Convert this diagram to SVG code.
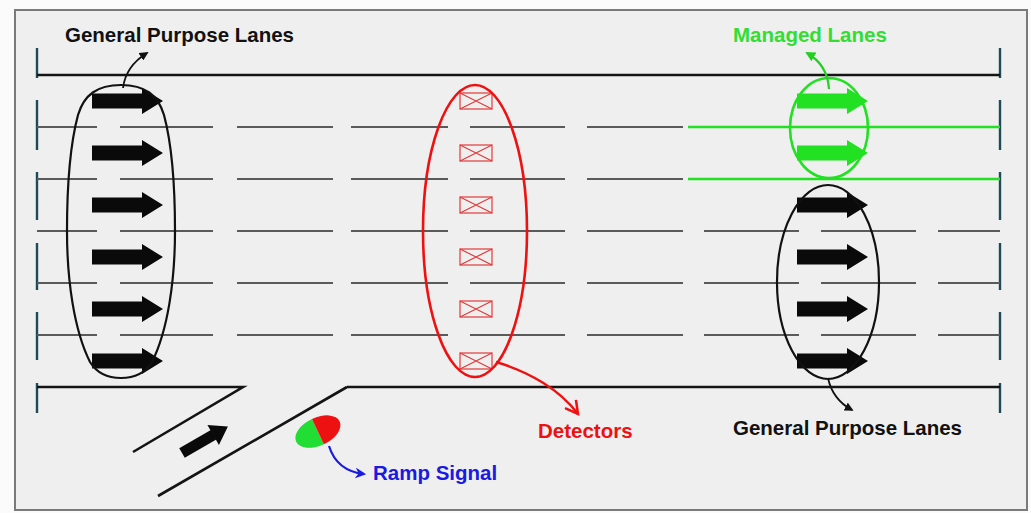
<svg xmlns="http://www.w3.org/2000/svg" width="1031" height="513" viewBox="0 0 1031 513">
  <style>
    .lbl { font-family: "Liberation Sans", Arial, sans-serif; font-weight: bold; font-size: 20.5px; }
    .edge { stroke: #141414; stroke-width: 2.6; fill: none; }
    .lane { stroke: #5a5a5a; stroke-width: 1.8; fill: none; }
    .hov { stroke: #22e022; stroke-width: 2.6; fill: none; }
    .tick { stroke: #1f4a58; stroke-width: 2.4; fill: none; }
    .det { stroke: #e23a3a; stroke-width: 1.2; fill: none; }
    .blk { fill: #0a0a0a; }
    .grn { fill: #22e022; }
  </style>
  <defs>
    <!-- block arrow showing direction of travel, origin at tail centre -->
    <path id="flow" d="M0,-7.5 H50 V-13 L71,0 L50,13 V7.5 H0 Z"/>
    <!-- detector loop symbol, origin at centre -->
    <g id="loop">
      <rect x="-16" y="-8" width="32" height="16"/>
      <path d="M-16,-8 L16,8 M-16,8 L16,-8"/>
    </g>
    <marker id="ah-black" viewBox="0 0 10 10" refX="8" refY="5" markerWidth="9" markerHeight="9" markerUnits="userSpaceOnUse" orient="auto">
      <path d="M0,0 L10,5 L0,10 Z" fill="#111"/>
    </marker>
    <marker id="ah-green" viewBox="0 0 10 10" refX="8" refY="5" markerWidth="10" markerHeight="10" markerUnits="userSpaceOnUse" orient="auto">
      <path d="M0,0 L10,5 L0,10 Z" fill="#22d022"/>
    </marker>
    <marker id="ah-red" viewBox="0 0 14 14" refX="12" refY="7" markerWidth="16" markerHeight="16" markerUnits="userSpaceOnUse" orient="auto">
      <path d="M1,1 L12,7 L1,13" fill="none" stroke="#ee1111" stroke-width="2.2"/>
    </marker>
    <marker id="ah-blue" viewBox="0 0 10 10" refX="8" refY="5" markerWidth="11" markerHeight="11" markerUnits="userSpaceOnUse" orient="auto">
      <path d="M0,0 L10,5 L0,10 L3,5 Z" fill="#1a1ae0"/>
    </marker>
  </defs>

  <!-- page and frame -->
  <rect x="0" y="0" width="1031" height="513" fill="#fbfbfb"/>
  <rect x="15" y="10" width="1012" height="500" fill="#efefef" stroke="#7a7a7a" stroke-width="2"/>

  <!-- roadway -->
  <g id="roadway">
    <!-- section limits -->
    <path class="tick" d="M37,48 V78 M37,100 V150 M37,172 V220 M37,243 V290 M37,312 V360 M37,383 V413"/>
    <path class="tick" d="M1000,48 V78 M1000,100 V150 M1000,172 V220 M1000,243 V290 M1000,312 V360 M1000,383 V413"/>
    <!-- outer edges -->
    <path class="edge" d="M37,75 H1000"/>
    <path class="edge" d="M37,387 H243 L133,452 M347,387 H1000 M347,387 L158,496"/>
    <!-- lane lines next to the managed lanes -->
    <path class="lane" d="M37,127 H97 M120,127 H213 M237,127 H333 M351,127 H448 M470,127 H565 M587,127 H683"/>
    <path class="lane" d="M37,179 H97 M120,179 H213 M237,179 H333 M351,179 H448 M470,179 H565 M587,179 H683"/>
    <path class="hov" d="M688,127 H1000 M688,179 H1000"/>
    <!-- general purpose lane lines -->
    <path class="lane" d="M37,231 H97 M120,231 H213 M237,231 H333 M351,231 H448 M470,231 H565 M587,231 H683 M704,231 H799 M821,231 H916 M938,231 H1000"/>
    <path class="lane" d="M37,283 H97 M120,283 H213 M237,283 H333 M351,283 H448 M470,283 H565 M587,283 H683 M704,283 H799 M821,283 H916 M938,283 H1000"/>
    <path class="lane" d="M37,335 H97 M120,335 H213 M237,335 H333 M351,335 H448 M470,335 H565 M587,335 H683 M704,335 H799 M821,335 H916 M938,335 H1000"/>
  </g>

  <!-- upstream general purpose lanes -->
  <g id="gp-upstream">
    <use href="#flow" class="blk" x="92" y="101"/>
    <use href="#flow" class="blk" x="92" y="153"/>
    <use href="#flow" class="blk" x="92" y="205"/>
    <use href="#flow" class="blk" x="92" y="257"/>
    <use href="#flow" class="blk" x="92" y="309"/>
    <use href="#flow" class="blk" x="92" y="361"/>
    <path d="M121,85 C145,85 158,95 164,115 C172,145 175,190 175,231 C175,280 168,330 152,362 C144,375 132,378 121,378 C110,378 98,375 90,362 C74,330 67,280 67,231 C67,190 70,145 78,115 C84,95 97,85 121,85 Z" fill="none" stroke="#111" stroke-width="2.2"/>
  </g>

  <!-- detector station -->
  <g id="detectors" class="det">
    <use href="#loop" x="476" y="101"/>
    <use href="#loop" x="476" y="153"/>
    <use href="#loop" x="476" y="205"/>
    <use href="#loop" x="476" y="257"/>
    <use href="#loop" x="476" y="309"/>
    <use href="#loop" x="476" y="361"/>
    <ellipse cx="475" cy="231" rx="52" ry="146" fill="none" stroke="#ee1111" stroke-width="2.6"/>
  </g>

  <!-- managed lanes -->
  <g id="managed-lanes">
    <use href="#flow" class="grn" x="797" y="101"/>
    <use href="#flow" class="grn" x="797" y="153"/>
    <ellipse cx="829" cy="128" rx="39" ry="50" fill="none" stroke="#22e022" stroke-width="2.6"/>
  </g>

  <!-- downstream general purpose lanes -->
  <g id="gp-downstream">
    <use href="#flow" class="blk" x="797" y="205"/>
    <use href="#flow" class="blk" x="797" y="257"/>
    <use href="#flow" class="blk" x="797" y="309"/>
    <use href="#flow" class="blk" x="797" y="361"/>
    <ellipse cx="828" cy="282" rx="51" ry="97" fill="none" stroke="#111" stroke-width="2.2"/>
  </g>

  <!-- on-ramp traffic -->
  <g id="ramp">
    <path class="blk" transform="translate(182,453) rotate(-30)" d="M0,-5.5 H36 V-11.5 L53,0 L36,11.5 V5.5 H0 Z"/>
  </g>

  <!-- ramp meter signal head -->
  <g id="ramp-signal" transform="translate(317,432) rotate(-25)">
    <path d="M1,-14 A24,14 0 0 0 1,14 Z" fill="#22dd33"/>
    <path d="M1,-14 A24,14 0 0 1 1,14 Z" fill="#ee1111"/>
  </g>

  <!-- callout leaders -->
  <g id="connectors" fill="none">
    <path d="M123,88 C125,72 134,61 147,53" stroke="#111" stroke-width="1.8" marker-end="url(#ah-black)"/>
    <path d="M829,89 C828,73 821,61 807,53" stroke="#22d022" stroke-width="2.2" marker-end="url(#ah-green)"/>
    <path d="M828,378 C831,392 839,403 852,410" stroke="#111" stroke-width="1.8" marker-end="url(#ah-black)"/>
    <path d="M496,362 C530,372 560,390 578,414" stroke="#ee1111" stroke-width="2.4" marker-end="url(#ah-red)"/>
    <path d="M329,446 C334,462 346,472 364,474" stroke="#1a1ae0" stroke-width="2.2" marker-end="url(#ah-blue)"/>
  </g>

  <!-- labels -->
  <g id="labels" class="lbl">
    <text x="65" y="42" fill="#111">General Purpose Lanes</text>
    <text x="733" y="42" fill="#33dd33">Managed Lanes</text>
    <text x="538" y="438" fill="#ee1111">Detectors</text>
    <text x="733" y="435" fill="#111">General Purpose Lanes</text>
    <text x="373" y="480" fill="#1a1ae0">Ramp Signal</text>
  </g>
</svg>
